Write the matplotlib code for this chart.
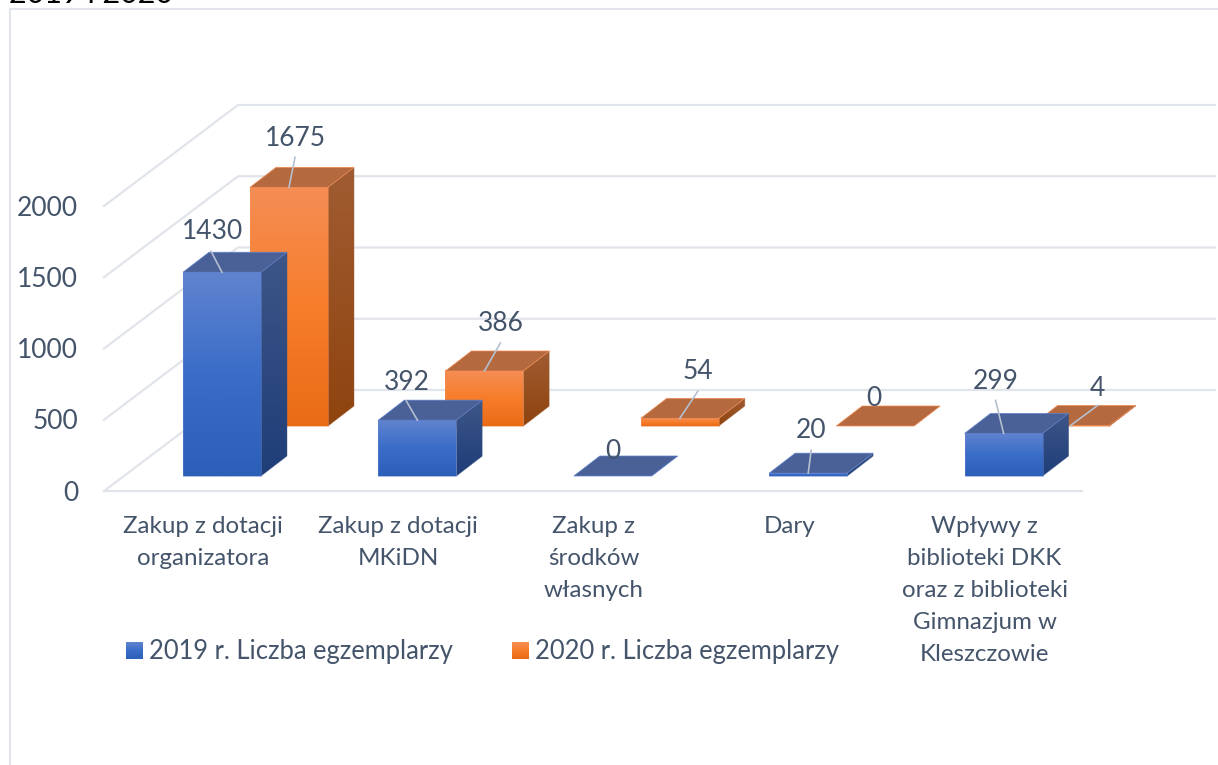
import numpy as np
import matplotlib
matplotlib.use('Agg')
import matplotlib.pyplot as plt
from matplotlib.patches import Polygon, Rectangle
from matplotlib.colors import to_rgb

plt.rcParams['font.family'] = ['Lato', 'DejaVu Sans']

# Data
categories = [
    "Zakup z dotacji\norganizatora",
    "Zakup z dotacji\nMKiDN",
    "Zakup z\nśrodków\nwłasnych",
    "Dary",
    "Wpływy z\nbiblioteki DKK\noraz z biblioteki\nGimnazjum w\nKleszczowie",
]
values_2019 = [1430, 392, 0, 20, 299]
values_2020 = [1675, 386, 54, 0, 4]
series_names = ["2019 r. Liczba egzemplarzy", "2020 r. Liczba egzemplarzy"]
y_ticks = [0, 500, 1000, 1500, 2000]

# Oblique layout, in pixels of the picture
FLOOR_X, FLOOR_Y = 104, 491
FLOOR_RIGHT = 1082
WALL_DX, WALL_DY = 134, -101
PX_PER_UNIT = 0.1425
CAT_STEP = 195.4
BAR_W = 78
DEPTH_DX, DEPTH_DY = 26, -20

TEXT = '#44546a'
GRID = '#e1e4ea'
LEADER = '#b4c0d0'

# (front x of first bar, base y, face gradient, side gradient, top colour)
style_2019 = (183, 476, ['#6083cf', '#3a6dc8', '#2c5fb8'], ['#3d5688', '#1f3d78'], '#4a6198')
style_2020 = (250, 426, ['#f48d54', '#f77d2a', '#e96b16'], ['#a05c32', '#8f440f'], '#b5693f')

# label offset and leader end, relative to middle of the bar's front top edge
label_off_2019 = [(-9, -41), (-11, -38), (0, -25), (3, -43), (-8, -52)]
leader_off_2019 = [(-11, -21), (-11, -19), None, (3, -23), (-8, -33)]
label_off_2020 = [(6, -49), (16, -47), (18, -47), (-1, -28), (27, -37)]
leader_off_2020 = [(6, -30), (16, -28), (18, -27), None, (27, -20)]

fig = plt.figure(figsize=(12.18, 7.65), dpi=100)
ax = fig.add_axes([0, 0, 1, 1])

bar_z = 3.0


def gradient(colors, n=64):
    rgb = np.array([to_rgb(c) for c in colors])
    pos = np.linspace(0, 1, len(colors))
    t = np.linspace(0, 1, n)
    return np.stack([np.interp(t, pos, rgb[:, k]) for k in range(3)], axis=1)[:, None, :]


def draw_bar(x, base, value, style, z):
    _, _, face, side, top = style
    h = value * PX_PER_UNIT
    y = base - h
    top_pts = [(x, y), (x + DEPTH_DX, y + DEPTH_DY), (x + BAR_W + DEPTH_DX, y + DEPTH_DY), (x + BAR_W, y)]
    if h > 0:
        # side face
        side_pts = [(x + BAR_W, y), (x + BAR_W + DEPTH_DX, y + DEPTH_DY),
                    (x + BAR_W + DEPTH_DX, base + DEPTH_DY), (x + BAR_W, base)]
        im = ax.imshow(gradient(side), extent=(x + BAR_W, x + BAR_W + DEPTH_DX, base, y + DEPTH_DY),
                       aspect='auto', zorder=z, interpolation='bilinear')
        p = Polygon(side_pts, closed=True, fc='none', ec=side[0], lw=0.5, alpha=0.6, zorder=z + 0.01)
        ax.add_patch(p)
        im.set_clip_path(p)
        # front face
        ax.imshow(gradient(face), extent=(x, x + BAR_W, base, y), aspect='auto', zorder=z + 0.02,
                  interpolation='bilinear')
        ax.add_patch(Rectangle((x, y), BAR_W, h, fc='none', ec=face[0], lw=0.6, alpha=0.6, zorder=z + 0.03))
    ax.add_patch(Polygon(top_pts, closed=True, fc=top, ec=face[0], lw=0.5, zorder=z + 0.04))


# Frame around the chart area
ax.plot([10, 10, 1218], [765, 9, 9], color=GRID, lw=1.5, zorder=1)

# Wall and side gridlines
for t in y_ticks:
    y = FLOOR_Y - t * PX_PER_UNIT
    ax.plot([FLOOR_X, FLOOR_X + WALL_DX, FLOOR_RIGHT + WALL_DX - 1], [y, y + WALL_DY, y + WALL_DY],
            color=GRID, lw=1.6, zorder=1)
    ax.text(78, y + 2, str(t), ha='right', va='center', fontsize=19, color=TEXT)
ax.plot([FLOOR_X, FLOOR_RIGHT], [FLOOR_Y, FLOOR_Y], color=GRID, lw=1.6, zorder=1)

# Bars, back row first
for values, style in [(values_2020, style_2020), (values_2019, style_2019)]:
    for i, v in enumerate(values):
        draw_bar(style[0] + i * CAT_STEP, style[1], v, style, bar_z)
        bar_z += 0.1

# Data labels and leader lines
for values, style, label_off, leader_off in [
    (values_2019, style_2019, label_off_2019, leader_off_2019),
    (values_2020, style_2020, label_off_2020, leader_off_2020),
]:
    for i, v in enumerate(values):
        ax_x = style[0] + i * CAT_STEP + BAR_W / 2
        ax_y = style[1] - v * PX_PER_UNIT
        if leader_off[i] is not None:
            ax.plot([ax_x, ax_x + leader_off[i][0]], [ax_y, ax_y + leader_off[i][1]],
                    color=LEADER, lw=1.2, zorder=10)
        ax.text(ax_x + label_off[i][0], ax_y + label_off[i][1], str(v), ha='center', va='center',
                fontsize=19, color=TEXT, zorder=11)

# Category labels
for i, label in enumerate(categories):
    ax.text(203 + i * CAT_STEP, 516, label, ha='center', va='top', fontsize=17.4, color=TEXT,
            linespacing=1.65)

# Legend
for name, style, sq_x in zip(series_names, (style_2019, style_2020), (126, 512)):
    ax.imshow(gradient(style[2]), extent=(sq_x, sq_x + 17, 659, 642), aspect='auto', zorder=3)
    ax.text(sq_x + 23, 651, name, ha='left', va='center', fontsize=18.4, color=TEXT)

# Title, cut off by the top of the picture
ax.text(9, 3, "2019 i 2020", ha='left', va='baseline', fontsize=22, color='black', clip_on=False)

ax.set_xlim(0, 1218)
ax.set_ylim(765, 0)
ax.axis('off')

fig.savefig('out.png', dpi=100)
